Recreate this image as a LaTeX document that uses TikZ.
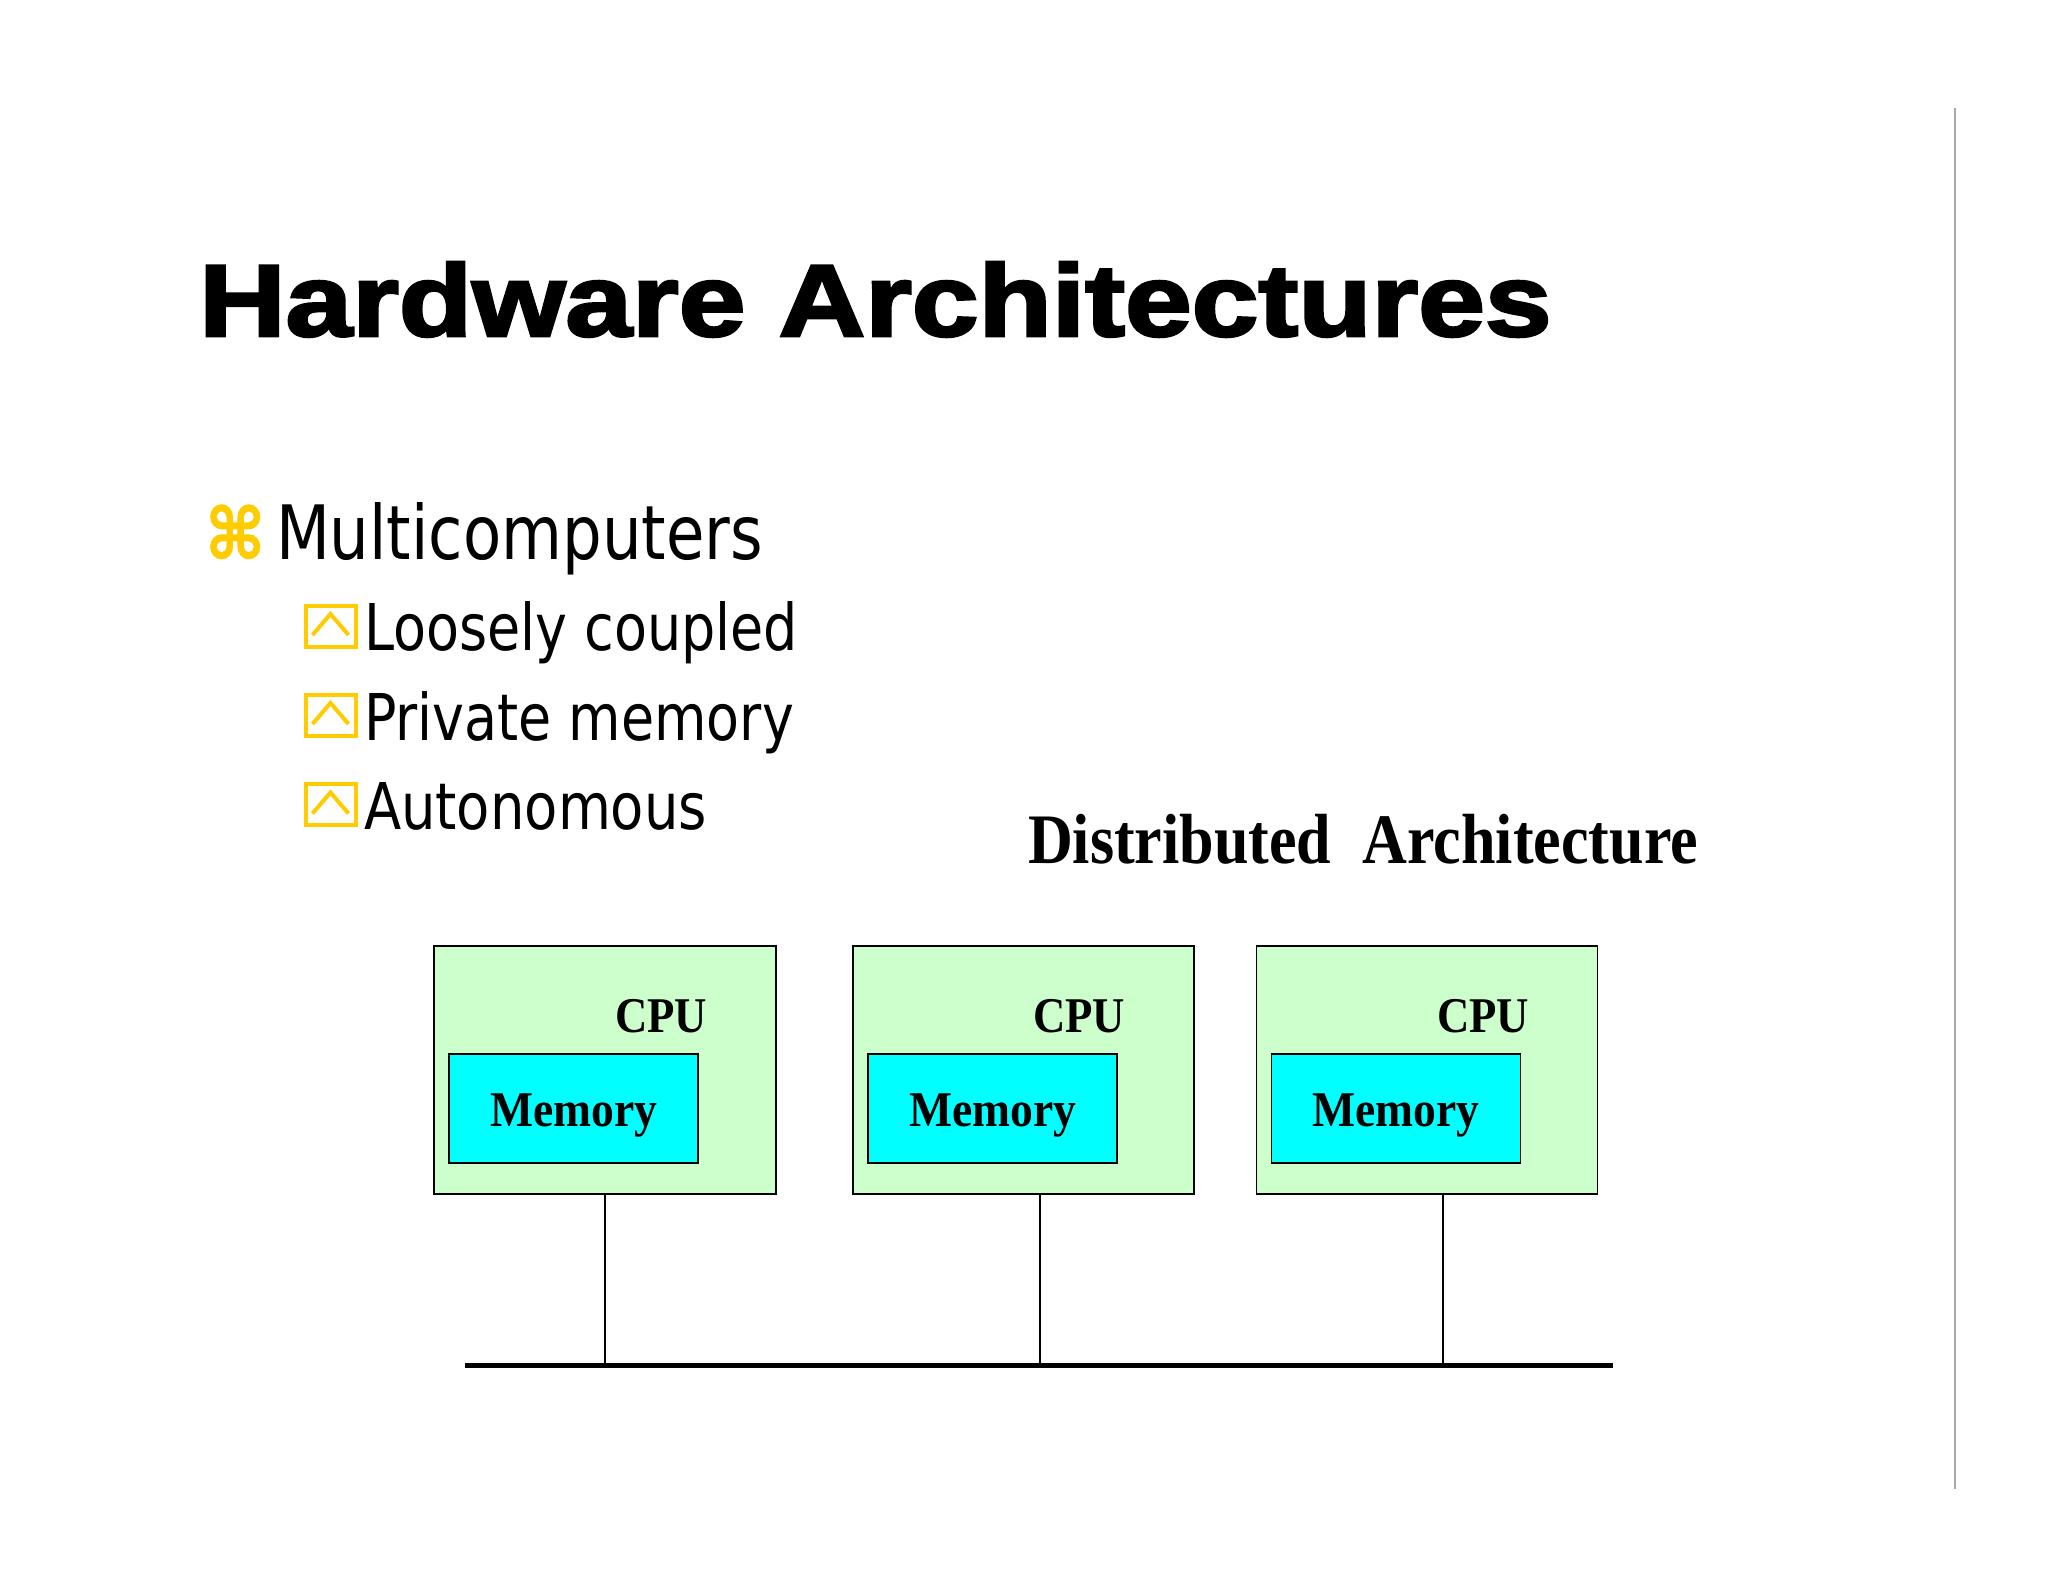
\documentclass[tikz,border=0pt]{standalone}
\usepackage{fontspec}
\usepackage{graphicx}
\setmainfont{Liberation Serif}
\newfontfamily\titlefont{Liberation Sans}[BoldFeatures={FakeBold=2.5}]
\newfontfamily\bodyfont{DejaVu Sans}
\newfontfamily\symfont{DejaVu Sans}[BoldFeatures={FakeBold=1.5}]
\definecolor{bulletyellow}{HTML}{FFCC00}
\definecolor{cpugreen}{HTML}{CCFFCC}
\definecolor{memcyan}{HTML}{00FFFF}
\definecolor{rulegray}{HTML}{A8A8A8}
\newsavebox\fitbox
\newcommand\fitw[2]{\sbox\fitbox{#2}\pgfmathsetmacro\fitsx{#1/\the\wd\fitbox}\scalebox{\fitsx}[1]{\usebox\fitbox}}
\tikzset{
  txt/.style={anchor=base west, inner sep=0pt, outer sep=0pt},
  cpubox/.style={draw=black, fill=cpugreen, line width=1.5pt, inner sep=0pt},
  membox/.style={draw=black, fill=memcyan, line width=1.5pt, inner sep=0pt},
  link/.style={line width=1.5pt},
  bus/.style={line width=5pt},
  bulletbox/.style={draw=bulletyellow, line width=4pt, minimum width=50pt, minimum height=41pt, inner sep=0pt},
  chev/.style={draw=bulletyellow, line width=4pt},
  grayrule/.style={draw=rulegray, line width=2.5pt}
}
\begin{document}
\begin{tikzpicture}[x=1pt, y=-1pt]
\useasboundingbox (0,0) rectangle (2048,1582);
\fill[white] (0,0) rectangle (2048,1582);

% title
\node[txt] (title) at (199,336) {\resizebox{1352pt}{74pt}{\titlefont\bfseries Hardware Architectures}};

% main bullet
\node[anchor=south west, inner sep=0pt] (cmd) at (205,559) {\resizebox*{60pt}{54pt}{\color{bulletyellow}\symfont\bfseries ⌘}};
\node[txt] (l0) at (276,559) {\fitw{487}{\bodyfont\fontsize{75}{80}\selectfont Multicomputers}};

% sub bullets
\node[bulletbox] (bb1) at (330.5,626) {};
\draw[chev] (bb1.center) ++(-18,9) -- ++(18,-21) -- ++(18,21);
\node[txt] (l1) at (364,650) {\fitw{434}{\bodyfont\fontsize{64.5}{70}\selectfont Loosely coupled}};

\node[bulletbox] (bb2) at (330.5,715) {};
\draw[chev] (bb2.center) ++(-18,9) -- ++(18,-21) -- ++(18,21);
\node[txt] (l2) at (364,740) {\fitw{430}{\bodyfont\fontsize{64.5}{70}\selectfont Private memory}};

\node[bulletbox] (bb3) at (330.5,804.5) {};
\draw[chev] (bb3.center) ++(-18,9) -- ++(18,-21) -- ++(18,21);
\node[txt] (l3) at (364,829) {\fitw{343}{\bodyfont\fontsize{64.5}{70}\selectfont Autonomous}};

% caption
\node[txt] (cap) at (1028,863) {\fitw{670}{\fontsize{71}{75}\selectfont\bfseries Distributed\ \ Architecture}};

% computers
\node[cpubox, minimum width=342pt, minimum height=248pt] (cpu1) at (605,1070) {};
\node[membox, minimum width=249pt, minimum height=109pt] (mem1) at (573.5,1108.5) {};
\node[txt] (cpulab1) at (615,1032) {\fitw{92}{\fontsize{50}{55}\selectfont\bfseries CPU}};
\node[txt] (memlab1) at (490,1126) {\fitw{167}{\fontsize{50}{55}\selectfont\bfseries Memory}};

\node[cpubox, minimum width=341pt, minimum height=248pt] (cpu2) at (1023.5,1070) {};
\node[membox, minimum width=249pt, minimum height=109pt] (mem2) at (992.5,1108.5) {};
\node[txt] (cpulab2) at (1033,1032) {\fitw{92}{\fontsize{50}{55}\selectfont\bfseries CPU}};
\node[txt] (memlab2) at (909,1126) {\fitw{167}{\fontsize{50}{55}\selectfont\bfseries Memory}};

\node[cpubox, minimum width=341pt, minimum height=248pt] (cpu3) at (1427,1070) {};
\node[membox, minimum width=249pt, minimum height=109pt] (mem3) at (1396,1108.5) {};
\node[txt] (cpulab3) at (1437,1032) {\fitw{92}{\fontsize{50}{55}\selectfont\bfseries CPU}};
\node[txt] (memlab3) at (1312,1126) {\fitw{167}{\fontsize{50}{55}\selectfont\bfseries Memory}};

% bus
\coordinate (busL) at (465,1365);
\coordinate (busR) at (1613,1365);
\coordinate (b1) at (605,1365);
\coordinate (b2) at (1040,1365);
\coordinate (b3) at (1443,1365);
\draw[link] (cpu1.south -| b1) -- (b1);
\draw[link] (cpu2.south -| b2) -- (b2);
\draw[link] (cpu3.south -| b3) -- (b3);
\draw[bus] (busL) -- (busR);

% right rule
\coordinate (rt) at (1955,108);
\coordinate (rb) at (1955,1489);
\draw[grayrule] (rt) -- (rb);
\end{tikzpicture}
\end{document}
